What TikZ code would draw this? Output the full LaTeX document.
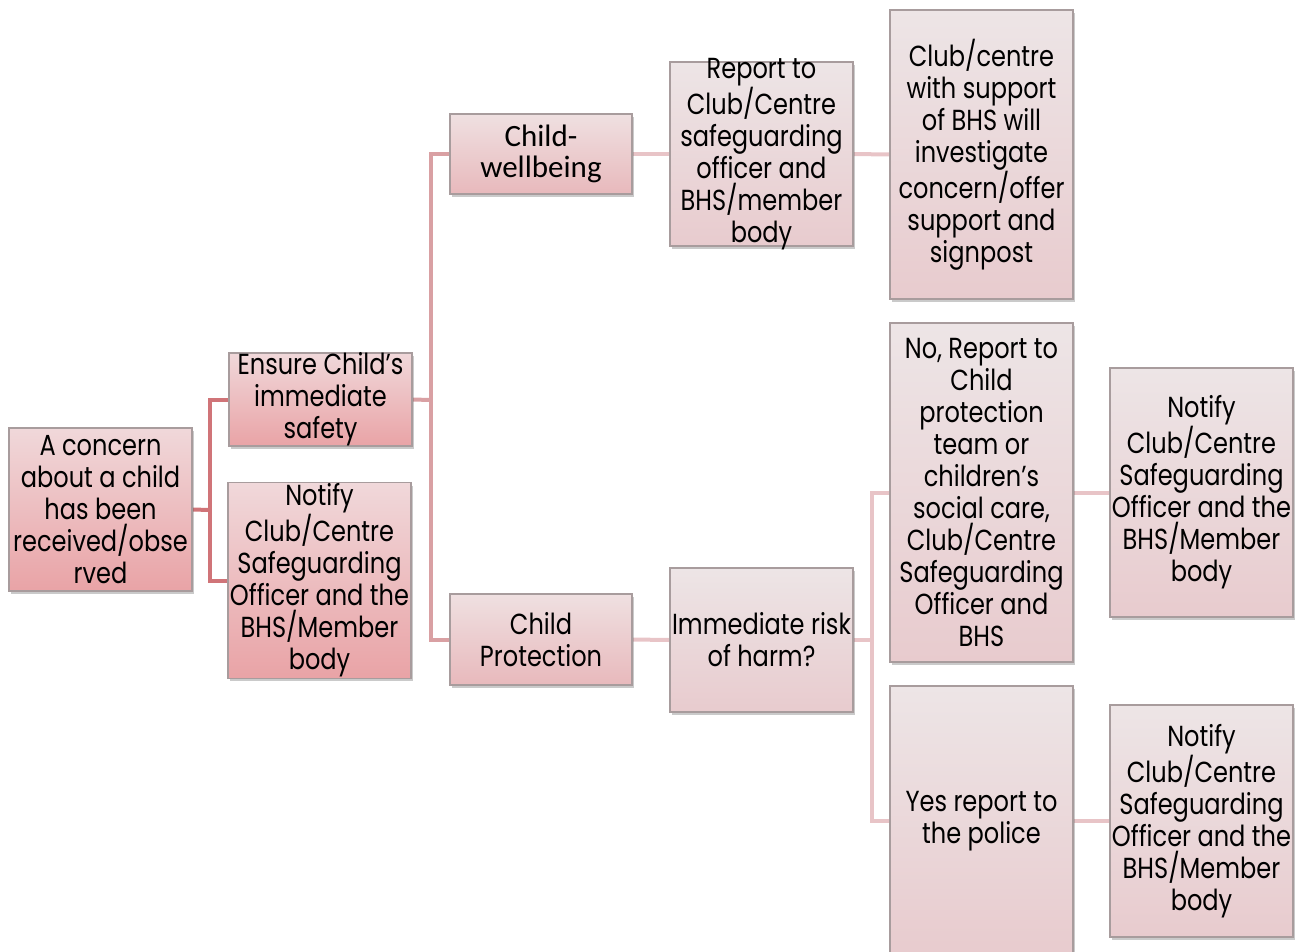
\documentclass[tikz,border=0pt]{standalone}
\usepackage{fontspec}
\setmainfont{Poppins}[FakeStretch=0.83]
\newfontfamily\calfont{Carlito}
\usetikzlibrary{shadows,backgrounds}
\definecolor{lnA}{HTML}{D07478}
\definecolor{lnB}{HTML}{D9A0A3}
\definecolor{lnC}{HTML}{E8C4C7}
\definecolor{bordc}{HTML}{A89C9D}
\tikzset{
  box/.style={rectangle, draw=bordc, line width=1.1pt, align=center, inner sep=1pt,
    font=\fontsize{29}{32}\selectfont, text=black,
    drop shadow={shadow xshift=2pt, shadow yshift=-3pt, opacity=0.35, fill=black!60}},
  fA/.style={top color={rgb,255:red,240;green,216;blue,218}, bottom color={rgb,255:red,233;green,163;blue,166}},
  fB/.style={top color={rgb,255:red,239;green,224;blue,225}, bottom color={rgb,255:red,232;green,185;blue,188}},
  fC/.style={top color={rgb,255:red,237;green,229;blue,230}, bottom color={rgb,255:red,232;green,203;blue,206}},
  conA/.style={draw=lnA, line width=4pt},
  conB/.style={draw=lnB, line width=4pt},
  conC/.style={draw=lnC, line width=4pt}
}
\begin{document}
\begin{tikzpicture}[x=1pt,y=-1pt]
\useasboundingbox (0,0) rectangle (1303,951);
\clip (0,0) rectangle (1303,951);
% junction points
\coordinate (j1) at (210,510);
\coordinate (j2) at (431,400);
\coordinate (j3) at (872,640);
% boxes
\node[box,fA,minimum width=183pt,minimum height=163pt] (A) at (100.5,509.5) {A concern\\about a child\\has been\\received/obse\\rved};
\node[box,fA,minimum width=183pt,minimum height=93pt,inner ysep=-2pt] (B) at (320.5,399.5) {Ensure Child’s\\immediate\\safety};
\node[box,fA,minimum width=183pt,minimum height=195pt] (C) at (319.5,580.5) {Notify\\Club/Centre\\Safeguarding\\Officer and the\\BHS/Member\\body};
\node[box,fB,minimum width=182pt,minimum height=80pt,font=\calfont\fontsize{31}{31}\selectfont] (D) at (541,154) {Child-\\wellbeing};
\node[box,fB,minimum width=182pt,minimum height=91pt] (E) at (541,639.5) {Child\\Protection};
\node[box,fC,minimum width=183pt,minimum height=184pt,inner ysep=-6pt] (F) at (761.5,154) {Report to\\Club/Centre\\safeguarding\\officer and\\BHS/member\\body};
\node[box,fC,minimum width=183pt,minimum height=289pt] (G) at (981.5,154.5) {Club/centre\\with support\\of BHS will\\investigate\\concern/offer\\support and\\signpost};
\node[box,fC,minimum width=183pt,minimum height=144pt] (H) at (761.5,640) {Immediate risk\\of harm?};
\node[box,fC,minimum width=183pt,minimum height=339pt] (I) at (981.5,492.5) {No, Report to\\Child\\protection\\team or\\children's\\social care,\\Club/Centre\\Safeguarding\\Officer and\\BHS};
\node[box,fC,minimum width=183pt,minimum height=270pt] (J) at (981.5,821) {Yes report to\\the police};
\node[box,fC,minimum width=183pt,minimum height=249pt] (K) at (1201.5,492.5) {Notify\\Club/Centre\\Safeguarding\\Officer and the\\BHS/Member\\body};
\node[box,fC,minimum width=183pt,minimum height=232pt] (L) at (1201.5,821) {Notify\\Club/Centre\\Safeguarding\\Officer and the\\BHS/Member\\body};
% connectors (behind boxes)
\begin{scope}[on background layer]
\draw[conA] (A.east) -- (j1);
\draw[conA] (j1) |- (B.west);
\draw[conA] (j1) |- (C.west);
\draw[conB] (B.east) -- (j2);
\draw[conB] (j2) |- (D.west);
\draw[conB] (j2) |- (E.west);
\draw[conC] (D.east) -- (F.west);
\draw[conC] (F.east) -- (G.west);
\draw[conC] (E.east) -- (H.west);
\draw[conC] (H.east) -- (j3);
\draw[conC] (j3) |- (I.west);
\draw[conC] (j3) |- (J.west);
\draw[conC] (I.east) -- (K.west);
\draw[conC] (J.east) -- (L.west);
\end{scope}
\end{tikzpicture}
\end{document}
